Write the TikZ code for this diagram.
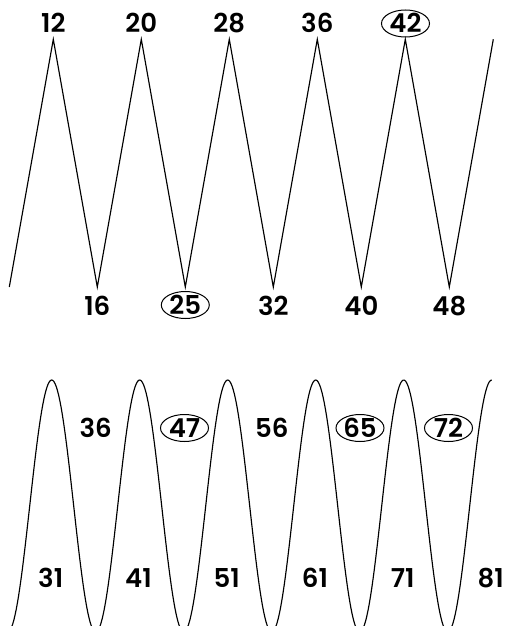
\documentclass[tikz,border=0pt]{standalone}
\usepackage{fontspec}
\setmainfont{Poppins}[BoldFont={Poppins SemiBold}]
\usetikzlibrary{shapes.geometric}
\begin{document}
\begin{tikzpicture}[x=1pt,y=-1pt,
  curve/.style={line width=1.15pt,line join=miter},
  num/.style={font=\fontsize{26}{26}\selectfont\bfseries,inner sep=0pt,anchor=center,text height=18.2pt,text depth=0pt},
  ring/.style={num,draw,ellipse,line width=1pt,minimum width=48pt,minimum height=27pt}]
\useasboundingbox (0,0) rectangle (507,626);
\clip (0,0) rectangle (507,626);
% top zigzag vertices
\coordinate (s) at (9.3,287);
\foreach \i in {0,...,4}{
  \coordinate (p\i) at ({53.3+88*\i},39.3);
  \coordinate (v\i) at ({97.3+88*\i},287);
}
\coordinate (e) at (493.3,39.3);
\draw[curve] (s) -- (p0) -- (v0) -- (p1) -- (v1) -- (p2) -- (v2) -- (p3) -- (v3) -- (p4) -- (v4) -- (e);
% top labels
\node[num]  (t12) at (53.3,23.5) {12};
\node[num]  (t20) at (141.3,23.5) {20};
\node[num]  (t28) at (229.3,23.5) {28};
\node[num]  (t36) at (317.3,23.5) {36};
\node[ring] (t42) at (405.5,23.5) {42};
\node[num]  (b16) at (97.3,306) {16};
\node[ring] (b25) at (185.3,305) {25};
\node[num]  (b32) at (273.3,306) {32};
\node[num]  (b40) at (361.3,306) {40};
\node[num]  (b48) at (449.3,306) {48};
% bottom wave
\draw[curve] plot[domain=7.7:491.7,samples=400] (\x,{380+126*(1-cos((\x-51.7)/88*360))});
% bottom labels
\node[num]  (u36) at (95.7,428) {36};
\node[ring] (u47) at (184.5,428) {47};
\node[num]  (u56) at (271.7,428) {56};
\node[ring] (u65) at (360,428) {65};
\node[ring] (u72) at (448.5,428) {72};
\node[num]  (l31) at (50.7,578) {31};
\node[num]  (l41) at (138.5,578) {41};
\node[num]  (l51) at (226.7,578) {51};
\node[num]  (l61) at (315,578) {61};
\node[num]  (l71) at (402.7,578) {71};
\node[num]  (l81) at (490.7,578) {81};
\end{tikzpicture}
\end{document}
